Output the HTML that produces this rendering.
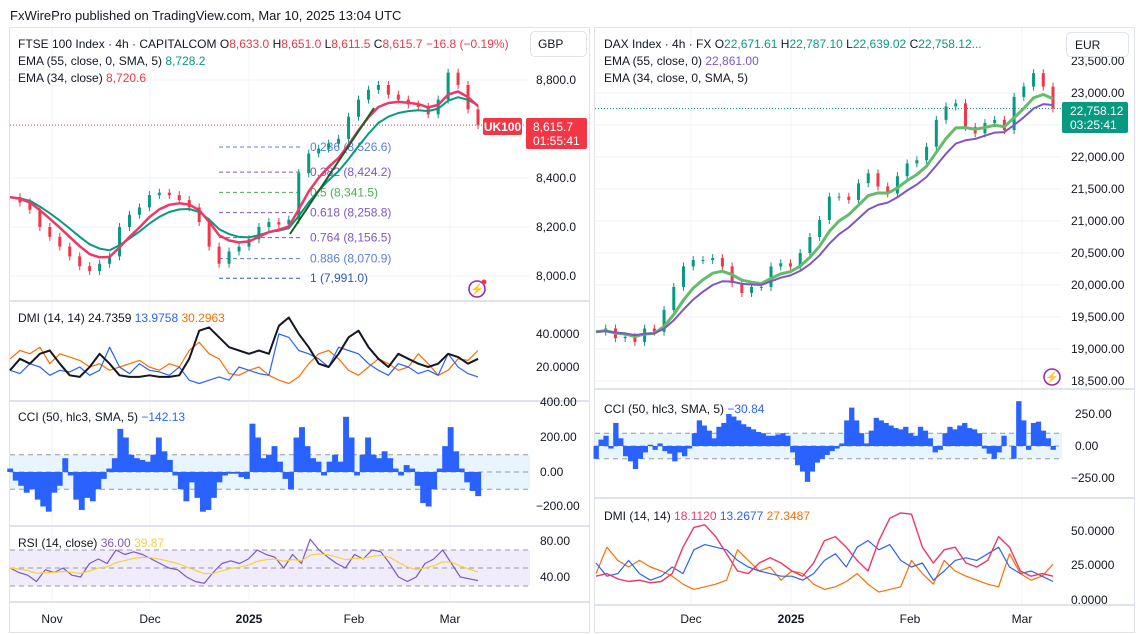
<!DOCTYPE html>
<html><head><meta charset="utf-8">
<style>
html,body{margin:0;padding:0;background:#fff;}
svg{display:block;font-family:"Liberation Sans",sans-serif;}
.ax{font-size:12px;fill:#131722;}
.lg{font-size:12px;fill:#131722;}
</style></head>
<body>
<svg id="chart" width="1136" height="634" viewBox="0 0 1136 634">
<rect x="0" y="0" width="1136" height="634" fill="#fff"/>
<text x="10" y="20" font-size="13" fill="#131722">FxWirePro published on TradingView.com, Mar 10, 2025 13:04 UTC</text>

<!-- panel borders -->
<rect x="9.5" y="27.5" width="580" height="605" fill="none" stroke="#e0e3eb"/>
<rect x="594.5" y="27.5" width="540" height="605" fill="none" stroke="#e0e3eb"/>

<g id="grid"></g>

<!-- backgrounds for bands -->
<g id="bands"></g>
<g id="marks"></g>

<!-- pane separators -->
<g stroke="#e0e3eb" stroke-width="2">
<line x1="10" y1="301" x2="590" y2="301"/><line x1="10" y1="401" x2="590" y2="401"/>
<line x1="10" y1="526" x2="590" y2="526"/><line x1="10" y1="602" x2="590" y2="602"/>
<line x1="595" y1="389" x2="1134" y2="389"/><line x1="595" y1="498" x2="1134" y2="498"/>
<line x1="595" y1="605" x2="1134" y2="605"/>
</g>

<!-- Left legends -->
<text class="lg" x="18" y="48">FTSE 100 Index · 4h · CAPITALCOM <tspan fill="#131722">O</tspan><tspan fill="#f23645">8,633.0</tspan> H<tspan fill="#f23645">8,651.0</tspan> L<tspan fill="#f23645">8,611.5</tspan> C<tspan fill="#f23645">8,615.7</tspan> <tspan fill="#f23645">−16.8 (−0.19%)</tspan></text>
<text class="lg" x="18" y="65">EMA (55, close, 0, SMA, 5) <tspan fill="#089981">8,728.2</tspan></text>
<text class="lg" x="18" y="82">EMA (34, close) <tspan fill="#f23645">8,720.6</tspan></text>
<text class="lg" x="18" y="322">DMI (14, 14) 24.7359 <tspan fill="#2962ff">13.9758</tspan> <tspan fill="#ff6d00">30.2963</tspan></text>
<text class="lg" x="18" y="421">CCI (50, hlc3, SMA, 5) <tspan fill="#2962ff">−142.13</tspan></text>
<text class="lg" x="18" y="547">RSI (14, close) <tspan fill="#7e57c2">36.00</tspan> <tspan fill="#f7d23a">39.87</tspan></text>

<!-- Right legends -->
<text class="lg" x="604" y="48">DAX Index · 4h · FX O<tspan fill="#089981">22,671.61</tspan> H<tspan fill="#089981">22,787.10</tspan> L<tspan fill="#089981">22,639.02</tspan> C<tspan fill="#089981">22,758.12...</tspan></text>
<text class="lg" x="604" y="65">EMA (55, close, 0) <tspan fill="#7e57c2">22,861.00</tspan></text>
<text class="lg" x="604" y="82">EMA (34, close, 0, SMA, 5)</text>
<text class="lg" x="604" y="413">CCI (50, hlc3, SMA, 5) <tspan fill="#2962ff">−30.84</tspan></text>
<text class="lg" x="604" y="520">DMI (14, 14) <tspan fill="#f23665">18.1120</tspan> <tspan fill="#2962ff">13.2677</tspan> <tspan fill="#ff6d00">27.3487</tspan></text>

<!-- Left axis labels -->
<g class="ax">
<text x="536" y="84">8,800.0</text><text x="536" y="182">8,400.0</text><text x="536" y="231">8,200.0</text><text x="536" y="280">8,000.0</text>
<text x="536" y="338">40.0000</text><text x="536" y="371">20.0000</text>
<text x="540" y="406">400.00</text><text x="540" y="441">200.00</text><text x="540" y="476">0.00</text><text x="536" y="510">−200.00</text>
<text x="540" y="545">80.00</text><text x="540" y="581">40.00</text>
</g>
<g class="ax" text-anchor="middle">
<text x="52" y="623">Nov</text><text x="150" y="623">Dec</text><text x="249" y="623" font-weight="bold">2025</text><text x="354" y="623">Feb</text><text x="450" y="623">Mar</text>
</g>
<!-- Right axis labels -->
<g class="ax">
<text x="1071" y="65">23,500.00</text><text x="1071" y="97">23,000.00</text><text x="1071" y="161">22,000.00</text><text x="1071" y="193">21,500.00</text>
<text x="1071" y="225">21,000.00</text><text x="1071" y="257">20,500.00</text><text x="1071" y="289">20,000.00</text><text x="1071" y="321">19,500.00</text>
<text x="1071" y="353">19,000.00</text><text x="1071" y="385">18,500.00</text>
<text x="1075" y="418">250.00</text><text x="1075" y="450">0.00</text><text x="1071" y="482">−250.00</text>
<text x="1071" y="535">50.0000</text><text x="1071" y="569">25.0000</text><text x="1071" y="604">0.0000</text>
</g>
<g class="ax" text-anchor="middle">
<text x="691" y="623">Dec</text><text x="791" y="623" font-weight="bold">2025</text><text x="910" y="623">Feb</text><text x="1022" y="623">Mar</text>
</g>

<!-- currency boxes -->
<g>
<rect x="530.5" y="31.5" width="56" height="25" rx="4" fill="#fff" stroke="#e0e3eb"/>
<text x="538" y="48" font-size="12" fill="#131722">GBP</text></g>
<g>
<rect x="1066.5" y="32.5" width="62" height="24" rx="4" fill="#fff" stroke="#e0e3eb"/>
<text x="1075" y="49" font-size="12" fill="#131722">EUR</text></g>

<!-- price tags -->
<g>
<rect x="483" y="118" width="39" height="17" rx="2" fill="#f23645"/>
<text x="502.5" y="131" font-size="12" fill="#fff" text-anchor="middle" font-weight="bold">UK100</text>
<rect x="526" y="118" width="61" height="31" rx="2" fill="#f23645"/>
<text x="533" y="131" font-size="12" fill="#fff">8,615.7</text>
<text x="533" y="145" font-size="12" fill="#fff">01:55:41</text></g>
<g>
<rect x="1062" y="102" width="66" height="31" rx="2" fill="#089981"/>
<text x="1070" y="115" font-size="12" fill="#fff">22,758.12</text>
<text x="1070" y="129" font-size="12" fill="#fff">03:25:41</text></g>

<!-- lightning icons -->
<g><circle cx="477" cy="289" r="8" fill="#fff" stroke="#9c27b0" stroke-width="1.6"/><text x="477" y="293" font-size="11" fill="#9c27b0" text-anchor="middle">⚡</text><circle cx="484" cy="282" r="2.5" fill="#f23645"/></g>
<g><circle cx="1052" cy="377" r="8" fill="#fff" stroke="#9c27b0" stroke-width="1.6"/><text x="1052" y="381" font-size="11" fill="#9c27b0" text-anchor="middle">⚡</text></g>
</svg>

<script>
// ===== data =====
const ftseClose=[8322,8300,8270,8200,8160,8120,8080,8040,8020,8050,8080,8200,8250,8280,8330,8340,8330,8310,8280,8220,8120,8050,8100,8120,8150,8200,8220,8210,8230,8420,8500,8520,8540,8560,8650,8720,8760,8780,8740,8720,8700,8690,8660,8720,8830,8780,8680,8616];
const daxClose=[19270,19320,19170,19190,19110,19320,19270,19610,19970,20290,20390,20390,20420,20290,20030,19875,19970,19970,20290,20340,20290,20500,20750,21015,21380,21380,21330,21590,21745,21540,21430,21700,21900,21950,22160,22580,22790,22840,22470,22370,22530,22580,22420,22940,23100,23310,23100,22758];
const dmiLeftAdx=[18,25,22,28,30,22,15,14,20,28,22,15,14,14,15,14,14,15,25,42,44,38,32,30,28,30,28,45,50,40,32,22,20,28,38,42,32,25,20,28,25,22,20,22,28,26,22,25];
const dmiLeftPlus=[18,16,22,20,15,18,17,20,15,18,32,20,16,22,18,17,15,20,12,10,12,14,12,20,18,16,15,40,38,30,28,25,20,32,30,28,22,18,15,22,20,16,18,15,28,20,16,14];
const dmiLeftMinus=[25,30,28,32,22,28,26,24,20,22,18,20,22,24,20,18,22,20,30,35,28,25,16,15,18,20,15,12,10,14,22,28,30,25,18,15,20,25,22,18,20,28,22,15,18,25,24,30];
const cciLeft=[20,-50,-80,-120,-100,-160,-200,-230,-120,-80,80,-20,-160,-220,-150,-170,-100,-40,20,80,250,200,100,80,70,60,100,200,120,70,-20,-100,-170,-60,-150,-230,-220,-150,-60,-20,-10,-10,-30,-40,280,200,80,100,150,60,-40,-100,200,260,150,80,60,-20,60,100,60,320,200,-20,100,200,100,80,120,80,20,-20,40,20,-80,-180,-200,-100,20,150,260,120,20,-60,-110,-140];
const rsiLeft=[50,45,42,35,48,45,50,42,40,55,60,55,70,65,68,65,60,55,50,48,40,35,33,45,55,58,55,60,70,65,62,50,65,55,82,70,62,55,50,65,60,70,68,55,40,35,40,55,60,70,55,40,38,36];
const cciRight=[-100,50,80,-20,180,60,-80,-120,-180,-100,-50,10,-30,20,-40,-60,-120,-50,-80,-20,100,200,160,120,60,150,180,250,230,200,170,150,130,110,100,80,80,90,100,80,-50,-150,-200,-280,-200,-130,-100,-70,-40,-20,20,200,300,200,100,20,120,220,200,180,160,140,130,150,100,80,150,120,60,-50,-30,100,150,130,160,180,140,130,100,-20,-60,-100,-50,80,0,-100,350,200,-30,180,190,120,60,-30];
const dmiRightAdx=[18,20,16,14,15,13,14,20,40,55,57,48,35,22,20,28,32,28,22,18,28,45,48,40,30,22,45,62,66,65,40,28,38,40,28,25,30,48,40,22,18,20,18];
const dmiRightPlus=[28,18,20,30,20,15,18,25,20,38,42,40,38,30,25,22,20,18,18,15,20,30,35,25,40,45,38,42,30,25,28,15,22,30,32,30,35,40,25,20,22,18,14];
const dmiRightMinus=[20,40,30,25,30,25,22,18,12,8,10,12,15,38,30,22,25,15,22,20,12,8,10,14,20,12,6,8,10,30,20,12,30,22,18,15,12,10,35,20,15,18,27];
const fibLevels=[0.236,0.382,0.5,0.618,0.764,0.886,1];
const fibPrices=[8526.6,8424.2,8341.5,8258.8,8156.5,8070.9,7991.0];

// ===== scales =====
const NS='http://www.w3.org/2000/svg';
const marks=document.getElementById('marks');
const bands=document.getElementById('bands');
const grid=document.getElementById('grid');
function mk(tag,attrs,parent){const e=document.createElementNS(NS,tag);for(const k in attrs)e.setAttribute(k,attrs[k]);(parent||marks).appendChild(e);return e;}
const xLeft=(i,n)=>10+i*(468/(n-1));
const xRight=(i,n)=>596+i*(457/(n-1));
const yFtse=p=>276-(p-8000)*0.245;
const yDax=p=>93-(p-23000)*0.064;
const yDmiL=v=>367-(v-20)*1.65;
const yCciL=v=>472-v*0.1725;
const yRsi=v=>577-(v-40)*0.9;
const yCciR=v=>446-v*0.128;
const yDmiR=v=>600-v*1.32;
function ema(arr,a){const o=[];let e=arr[0];for(let i=0;i<arr.length;i++){e=i?e+a*(arr[i]-e):arr[i];o.push(e);}return o;}
function poly(arr,xf,yf){return arr.map((v,i)=>xf(i,arr.length).toFixed(1)+','+yf(v).toFixed(1)).join(' ');}

// ===== grid =====
[84-4,178,227,276].forEach(y=>{const l=mk('line',{x1:10,x2:530,y1:y,y2:y,stroke:'#f0f3fa'},grid);});
[52,150,249,354,450].forEach(x=>{const l=mk('line',{x1:x,x2:x,y1:28,y2:602,stroke:'#f0f3fa'},grid);});
[93,125,157,189,221,253,285,317,349,381].forEach(y=>{const l=mk('line',{x1:595,x2:1062,y1:y,y2:y,stroke:'#f0f3fa'},grid);});
[691,791,910,1022].forEach(x=>{const l=mk('line',{x1:x,x2:x,y1:28,y2:605,stroke:'#f0f3fa'},grid);});

// ===== bands =====
let b;
b=mk('rect',{x:10,y:yCciL(100),width:520,height:yCciL(-100)-yCciL(100),fill:'#e3f2fd',opacity:0.8},bands);


b=mk('rect',{x:10,y:yRsi(70),width:520,height:yRsi(30)-yRsi(70),fill:'#f1ecfb'},bands);


b=mk('rect',{x:595,y:yCciR(100),width:467,height:yCciR(-100)-yCciR(100),fill:'#e3f2fd',opacity:0.8},bands);


[[yCciL(100),10,530],[yCciL(0),10,530],[yCciL(-100),10,530],[yRsi(70),10,530],[yRsi(50),10,530],[yRsi(30),10,530],[yCciR(100),595,1062],[yCciR(0),595,1062],[yCciR(-100),595,1062]].forEach(d=>{
  const l=mk('line',{x1:d[1],x2:d[2],y1:d[0],y2:d[0],stroke:'#9598a1','stroke-dasharray':'5,4'},bands);
  
  
});

// ===== current price lines =====
let pl=mk('line',{x1:10,x2:530,y1:yFtse(ftseClose[ftseClose.length-1]),y2:yFtse(ftseClose[ftseClose.length-1]),stroke:'#f23645','stroke-dasharray':'1,2'});


pl=mk('line',{x1:595,x2:1062,y1:yDax(daxClose[daxClose.length-1]),y2:yDax(daxClose[daxClose.length-1]),stroke:'#089981','stroke-dasharray':'1,2'});



// ===== fib =====
const fibColors=['#5b7fe0','#7e57c2','#4caf50','#7e57c2','#7e57c2','#5b7fe0','#3056b8'];
fibPrices.forEach((p,i)=>{
  const y=yFtse(p);
  const l=mk('line',{x1:219,x2:302,y1:y,y2:y,stroke:fibColors[i],'stroke-dasharray':'4,3'});
  
  
  const t=mk('text',{x:310,y:y+4,'font-size':12,fill:fibColors[i]});
  t.textContent=fibLevels[i]+' ('+p.toLocaleString('en-US',{minimumFractionDigits:1,maximumFractionDigits:1})+')';
  
  
});

// ===== candles =====
function candles(arr,xf,yf,w,name){
  for(let i=1;i<arr.length;i++){
    const o=arr[i-1],c=arr[i],x=xf(i,arr.length);
    const col=c>=o?'#089981':'#f23645';
    const y1=yf(Math.max(o,c)),y2=yf(Math.min(o,c));
    const wk=mk('line',{x1:x,x2:x,y1:y1-4,y2:y2+4,stroke:col,'stroke-width':1});
    
    
    const r=mk('rect',{x:x-w/2,y:y1,width:w,height:Math.max(1,y2-y1),fill:col});
    
    
  }
}
candles(ftseClose,xLeft,yFtse,3,'ftse');
candles(daxClose,xRight,yDax,3,'dax');

function line(arr,xf,yf,col,w,name){
  const p=mk('polyline',{points:poly(arr,xf,yf),fill:'none',stroke:col,'stroke-width':w,'stroke-linejoin':'round'});
  
  
}
line(ema(ftseClose,0.22),xLeft,yFtse,'#089981',2,'ftse-ema55-line');
line(ema(ftseClose,0.32),xLeft,yFtse,'#f23665',2.5,'ftse-ema34-line');
line(ema(daxClose,0.3),xRight,yDax,'#66bb6a',3,'dax-ema34-line');
line(ema(daxClose,0.2),xRight,yDax,'#7e57c2',2,'dax-ema55-line');

// trend line
let tl=mk('line',{x1:290,y1:234,x2:374,y2:108,stroke:'#1b5e20','stroke-width':2});



// DMI left
line(dmiLeftMinus,xLeft,yDmiL,'#ff6d00',1.2,'dmi-left-minus-line');
line(dmiLeftPlus,xLeft,yDmiL,'#2962ff',1.2,'dmi-left-plus-line');
line(dmiLeftAdx,xLeft,yDmiL,'#131722',2,'dmi-left-adx-line');

// CCI bars
function cciBars(arr,xf,yf,name){
  const n=arr.length,step=xf(1,n)-xf(0,n);
  arr.forEach((v,i)=>{
    const x=xf(i,n),y0=yf(0),y1=yf(v);
    const r=mk('rect',{x:x-step/2,y:Math.min(y0,y1),width:step+0.4,height:Math.abs(y1-y0),fill:'#2962ff'});
    
    
  });
}
cciBars(cciLeft,xLeft,yCciL,'cci-left-bar');
cciBars(cciRight,xRight,yCciR,'cci-right-bar');

// RSI
line(rsiLeft,xLeft,yRsi,'#7e57c2',1.2,'rsi-line');
line(ema(rsiLeft,0.25),xLeft,yRsi,'#f7d23a',1.2,'rsi-ma-line');

// DMI right
line(dmiRightMinus,xRight,yDmiR,'#ff6d00',1.2,'dmi-right-minus-line');
line(dmiRightPlus,xRight,yDmiR,'#2962ff',1.2,'dmi-right-plus-line');
line(dmiRightAdx,xRight,yDmiR,'#f23665',1.4,'dmi-right-adx-line');
</script>
</body></html>
